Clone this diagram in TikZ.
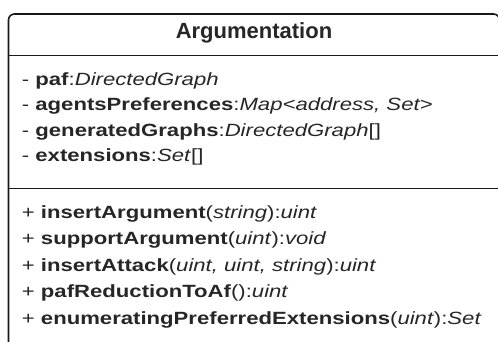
\documentclass[tikz,border=0pt]{standalone}
\usepackage{fontspec}
\newfontfamily\bodyfont{Liberation Sans}[FakeStretch=1.25]
\newfontfamily\titlefont{Liberation Sans}
\begin{document}
\begin{tikzpicture}[x=1pt,y=1pt,
 frame/.style={line width=1.6pt, draw=black!90},
 txt/.style={anchor=base west, inner sep=0pt, text=black!85, font=\bodyfont\fontsize{17.7}{20}\selectfont},
 ttl/.style={anchor=base, inner sep=0pt, text=black!85, font=\titlefont\bfseries\fontsize{22}{24}\selectfont}]
\useasboundingbox[fill=white] (0,0) rectangle (498,-341);
\draw[frame, rounded corners=6] (8.5,-360) -- (8.5,-14) -- (499.5,-14) -- (499.5,-360);
\coordinate (d1l) at (8.5,-55.5); \coordinate (d1r) at (499.5,-55.5);
\coordinate (d2l) at (8.5,-188.3); \coordinate (d2r) at (499.5,-188.3);
\draw[frame] (d1l) -- (d1r);
\draw[frame] (d2l) -- (d2r);
\node[ttl] (title) at (254,-38.3) {Argumentation};
\node[txt] (a1) at (21.7,-85.7) {- \textbf{paf}:\textit{DirectedGraph}};
\node[txt] (a2) at (21.7,-110.9) {- \textbf{agentsPreferences}:\textit{Map<address, Set>}};
\node[txt] (a3) at (21.7,-136.2) {- \textbf{generatedGraphs}:\textit{DirectedGraph}[]};
\node[txt] (a4) at (21.7,-161.5) {- \textbf{extensions}:\textit{Set}[]};
\node[txt] (m1) at (21.7,-218.2) {+ \textbf{insertArgument}(\textit{string}):\textit{uint}};
\node[txt] (m2) at (21.7,-244.7) {+ \textbf{supportArgument}(\textit{uint}):\textit{void}};
\node[txt] (m3) at (21.7,-271.2) {+ \textbf{insertAttack}(\textit{uint, uint, string}):\textit{uint}};
\node[txt] (m4) at (21.7,-297.7) {+ \textbf{pafReductionToAf}():\textit{uint}};
\node[txt] (m5) at (21.7,-324.2) {+ \textbf{enumeratingPreferredExtensions}(\textit{uint}):\textit{Set}};
\end{tikzpicture}
\end{document}
